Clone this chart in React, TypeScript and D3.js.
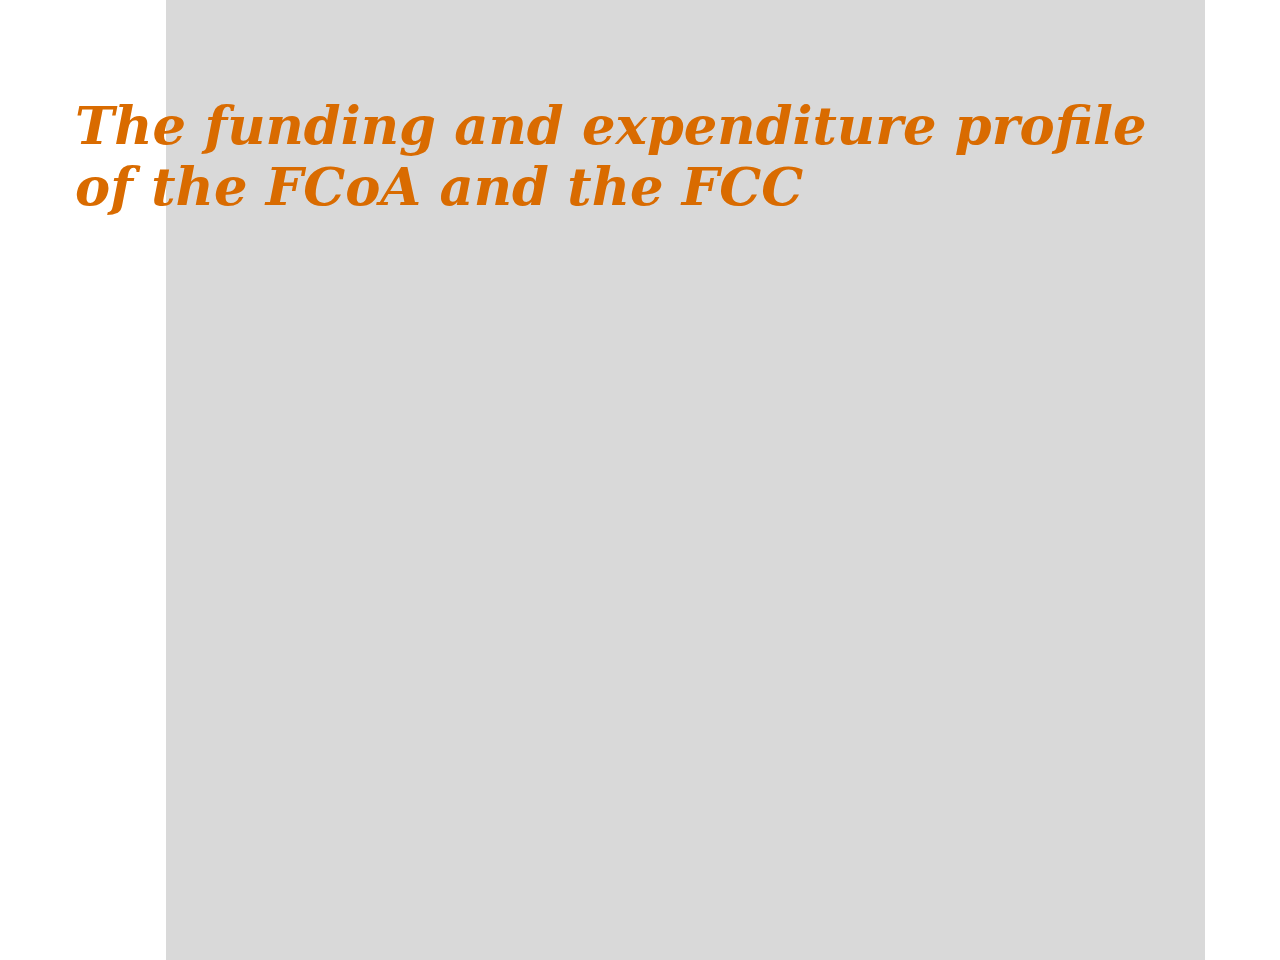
import React, { useEffect, useRef } from 'react';
import * as d3 from 'd3';

// Slide content
const titleLines = ['The funding and expenditure profile', 'of the FCoA and the FCC'];
const titleColor = '#D96B00';
const panelColor = '#D9D9D9';

const App: React.FC = () => {
  const svgRef = useRef<SVGSVGElement>(null);

  useEffect(() => {
    if (!svgRef.current) return;
    const svg = d3.select(svgRef.current);
    svg.selectAll('*').remove();

    const width = 1280;
    const height = 960;

    svg.append('rect')
      .attr('width', width)
      .attr('height', height)
      .attr('fill', '#ffffff');

    // grey content panel
    svg.append('rect')
      .attr('x', 166)
      .attr('y', 0)
      .attr('width', 1205 - 166)
      .attr('height', height)
      .attr('fill', panelColor);

    const title = svg.append('text')
      .attr('x', 75)
      .attr('y', 144)
      .attr('fill', titleColor)
      .style('font-family', '"DejaVu Serif", serif')
      .style('font-weight', 'bold')
      .style('font-style', 'italic')
      .style('font-size', '54px');

    titleLines.forEach((line, i) => {
      title.append('tspan')
        .attr('x', 75)
        .attr('dy', i === 0 ? 0 : 61)
        .text(line);
    });

    // fit first line width to the reference (~1072px)
    const first = title.select<SVGTSpanElement>('tspan').node();
    if (first) {
      const w = first.getComputedTextLength();
      if (w > 0) {
        const size = 54 * 1072 / w;
        title.style('font-size', `${Math.min(size, 58)}px`);
      }
    }
  }, []);

  return (
    <svg
      ref={svgRef}
      width={1280}
      height={960}
      style={{ position: 'fixed', left: 0, top: 0, display: 'block' }}
    />
  );
};

export default App;
